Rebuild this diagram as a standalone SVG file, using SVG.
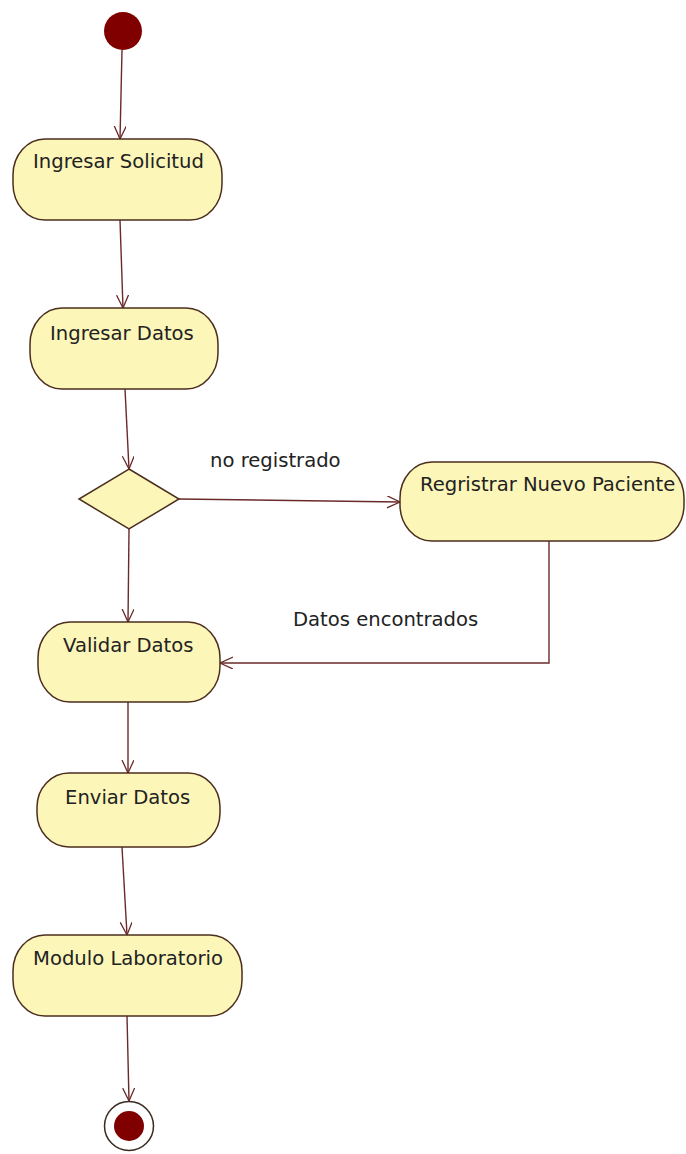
<svg xmlns="http://www.w3.org/2000/svg" width="686" height="1154" viewBox="0 0 686 1154">
  <style>
    .act { fill: #fcf6b9; stroke: #4b2e1e; stroke-width: 1.5; }
    .lbl { font-family: "DejaVu Sans", Verdana, sans-serif; font-size: 19.6px; fill: #222222; }
    .edge { fill: none; stroke: #6b2a2a; stroke-width: 1.4; marker-end: url(#open); }
    .dot { fill: #800000; }
  </style>
  <defs>
    <marker id="open" markerUnits="userSpaceOnUse" markerWidth="16" markerHeight="16" refX="13" refY="6" orient="auto">
      <path d="M0,0 L13,6 L0,12" fill="none" stroke="#6b2a2a" stroke-width="1.3"/>
    </marker>
  </defs>
  <rect width="686" height="1154" fill="#ffffff"/>

  <g id="connectors">
    <line class="edge" x1="122" y1="50" x2="120" y2="139"/>
    <line class="edge" x1="120" y1="220" x2="123" y2="308"/>
    <line class="edge" x1="125" y1="389" x2="129" y2="469"/>
    <line class="edge" x1="179" y1="499" x2="400" y2="502"/>
    <polyline class="edge" points="549,541 549,663 220,663"/>
    <line class="edge" x1="129" y1="529" x2="128" y2="622"/>
    <line class="edge" x1="128" y1="702" x2="128" y2="773"/>
    <line class="edge" x1="122" y1="847" x2="127" y2="935"/>
    <line class="edge" x1="127" y1="1016" x2="129" y2="1101"/>
    <text class="lbl" x="210" y="467">no registrado</text>
    <text class="lbl" x="293" y="626">Datos encontrados</text>
  </g>

  <g id="start">
    <circle class="dot" cx="123" cy="31" r="19"/>
  </g>

  <g id="ingresar-solicitud">
    <rect class="act" x="13" y="139" width="209" height="81" rx="32" ry="36"/>
    <text class="lbl" x="33" y="168">Ingresar Solicitud</text>
  </g>

  <g id="ingresar-datos">
    <rect class="act" x="30" y="308" width="188" height="81" rx="32" ry="36"/>
    <text class="lbl" x="50" y="340">Ingresar Datos</text>
  </g>

  <g id="decision">
    <polygon class="act" points="129,469 179,499 129,529 79,499"/>
  </g>

  <g id="registrar-nuevo-paciente">
    <rect class="act" x="400" y="462" width="284" height="79" rx="32" ry="36"/>
    <text class="lbl" x="420" y="491">Regristrar Nuevo Paciente</text>
  </g>

  <g id="validar-datos">
    <rect class="act" x="38" y="622" width="182" height="80" rx="32" ry="36"/>
    <text class="lbl" x="63" y="652">Validar Datos</text>
  </g>

  <g id="enviar-datos">
    <rect class="act" x="37" y="773" width="183" height="74" rx="32" ry="34"/>
    <text class="lbl" x="65" y="804">Enviar Datos</text>
  </g>

  <g id="modulo-laboratorio">
    <rect class="act" x="13" y="935" width="229" height="81" rx="32" ry="36"/>
    <text class="lbl" x="33" y="965">Modulo Laboratorio</text>
  </g>

  <g id="end">
    <circle cx="129" cy="1126" r="24.5" fill="#ffffff" stroke="#3a2a20" stroke-width="1.5"/>
    <circle class="dot" cx="129" cy="1126" r="15"/>
  </g>
</svg>
